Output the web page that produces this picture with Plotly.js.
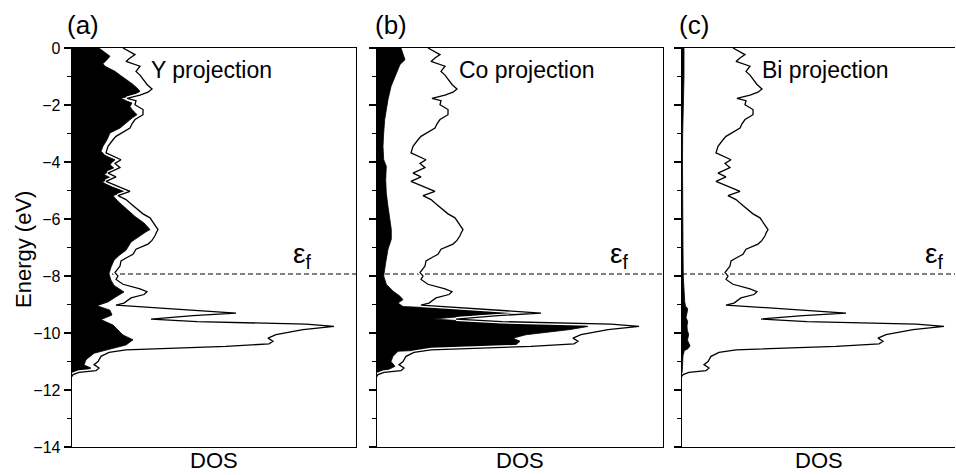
<!DOCTYPE html>
<html>
<head>
<meta charset="utf-8">
<script src="https://cdn.plot.ly/plotly-3.0.1.min.js"></script>
<style>html,body{margin:0;padding:0;background:#fff;overflow:hidden}</style>
</head>
<body>
<div id="chart" style="width:956px;height:475px"></div>
<script>
// Energy grid (eV) and total DOS (arb. units) — same total curve in every panel
const energyTotal = [0,-0.12,-0.23,-0.35,-0.47,-0.64,-0.82,-0.95,-1.11,-1.28,-1.44,-1.55,-1.65,-1.77,-1.85,-1.99,-2.16,-2.34,-2.51,-2.66,-2.81,-2.98,-3.10,-3.22,-3.45,-3.68,-3.80,-3.92,-4.05,-4.20,-4.39,-4.52,-4.68,-4.85,-5.03,-5.18,-5.32,-5.50,-5.67,-5.82,-5.96,-6.20,-6.37,-6.50,-6.59,-6.75,-6.88,-7.06,-7.24,-7.35,-7.47,-7.65,-7.78,-7.88,-8.00,-8.12,-8.29,-8.45,-8.55,-8.65,-8.77,-8.95,-9.02,-9.30,-9.39,-9.51,-9.60,-9.69,-9.77,-9.88,-10.06,-10.18,-10.29,-10.38,-10.47,-10.59,-10.68,-10.82,-11.00,-11.11,-11.23,-11.32,-11.38,-11.46,-11.52];
const dosTotal = [5.1,5.8,6.3,5.8,5.4,6.8,6.4,6.8,7.1,7.5,8.0,7.6,6.8,5.5,6.4,6.3,7.1,7.1,6.3,6.0,5.8,4.9,4.4,4.1,3.6,3.4,4.1,4.9,4.3,4.8,3.6,4.4,3.4,4.6,5.8,4.6,5.4,6.0,6.6,7.1,7.8,8.3,8.6,8.4,8.3,8.0,7.6,6.4,6.1,5.5,4.9,4.8,4.5,4.3,4.6,4.4,5.1,6.8,7.5,7.2,5.9,5.2,4.4,16.4,12.1,7.9,12.5,23.4,26.2,23.1,20.4,19.6,20.1,19.7,15.4,5.4,3.7,2.9,2.6,2.2,2.7,2.4,0.7,0.1,0];

// Y projection (panel a)
const energyY = [0,-0.15,-0.29,-0.41,-0.55,-0.64,-0.82,-0.95,-1.11,-1.25,-1.40,-1.52,-1.62,-1.77,-1.93,-2.05,-2.16,-2.34,-2.46,-2.57,-2.81,-2.98,-3.22,-3.45,-3.63,-3.80,-3.92,-4.09,-4.22,-4.44,-4.56,-4.70,-4.87,-5.03,-5.18,-5.38,-5.61,-5.91,-6.14,-6.37,-6.45,-6.58,-6.81,-7.10,-7.28,-7.45,-7.69,-7.92,-8.15,-8.33,-8.56,-8.73,-8.91,-9.04,-9.20,-9.37,-9.53,-9.72,-9.90,-10.07,-10.24,-10.42,-10.53,-10.62,-10.71,-10.94,-11.12,-11.23,-11.35,-11.47,-11.52];
const dosY = [2.7,3.3,3.8,3.5,3.1,3.3,4.3,4.8,5.5,6.0,6.5,6.8,6.3,4.9,6.0,5.8,6.0,6.5,6.0,5.6,4.8,3.8,3.5,3.1,2.9,3.5,4.3,3.8,4.2,3.2,3.9,3.0,4.0,5.3,4.1,4.6,5.3,6.3,7.2,7.8,7.4,6.9,5.9,5.4,4.7,4.2,3.9,3.7,3.9,4.2,5.2,4.4,3.6,2.5,3.8,4.0,2.9,4.1,4.6,5.1,6.1,5.4,4.2,3.2,2.2,1.4,1.2,1.9,1.2,0.4,0];

// Co projection (panel b)
const energyCo = [0,-0.23,-0.41,-0.58,-0.76,-0.99,-1.35,-1.81,-2.16,-2.51,-2.98,-3.45,-3.92,-4.15,-4.62,-5.09,-5.56,-6.02,-6.37,-6.71,-7.06,-7.53,-8.00,-8.29,-8.53,-8.71,-8.83,-8.95,-9.07,-9.28,-9.35,-9.51,-9.59,-9.69,-9.77,-9.88,-10.06,-10.18,-10.29,-10.41,-10.53,-10.64,-10.82,-11.00,-11.17,-11.29,-11.40,-11.52];
const dosCo = [2.4,2.6,2.8,2.3,2.1,1.8,1.4,1.1,0.93,0.77,0.67,0.6,0.67,0.93,0.87,0.93,1.1,1.27,1.43,1.43,1.1,0.87,0.67,0.93,1.6,2.3,2.6,2.1,2.6,15.5,11.0,5.6,9.3,20.6,21.1,19.3,14.9,13.6,14.3,13.9,9.3,2.1,1.6,1.4,1.8,1.1,0.6,0];

// Bi projection (panel c)
const energyBi = [0,-0.5,-1.0,-1.5,-2.0,-2.5,-3.0,-4.0,-5.0,-6.0,-7.0,-8.0,-8.5,-8.9,-9.05,-9.15,-9.3,-9.45,-9.6,-9.75,-9.9,-10.05,-10.25,-10.45,-10.55,-10.62,-10.8,-11.2,-11.5];
const dosBi = [0.2,0.23,0.2,0.17,0.13,0.1,0.07,0.05,0.05,0.07,0.1,0.13,0.17,0.27,0.35,0.57,0.5,0.4,0.57,0.5,0.53,0.67,0.55,0.8,0.6,0.23,0.1,0.05,0];

const fermiLevel = -7.93;
const panelLabels = ['(a)','(b)','(c)'];
const projectionLabels = ['Y projection','Co projection','Bi projection'];
const yTickVals = [0,-2,-4,-6,-8,-10,-12,-14];

const FONT = 'Liberation Sans, Arial, Helvetica, sans-serif';
const W = 956, PT = 48, PB = 447;
const px = v => v / W;
const py = v => (PB - v) / (PB - PT);

const projections = [[energyY, dosY], [energyCo, dosCo], [energyBi, dosBi]];
const axisSuffix = ['', '2', '3'];
const traces = [];
projections.forEach((p, i) => {
  const xa = 'x' + axisSuffix[i], ya = 'y' + axisSuffix[i];
  traces.push({x: p[1], y: p[0], xaxis: xa, yaxis: ya, type: 'scatter', mode: 'lines',
    fill: 'tozerox', fillcolor: '#000', line: {color: '#000', width: 0.8}, hoverinfo: 'skip'});
  traces.push({x: dosTotal, y: energyTotal, xaxis: xa, yaxis: ya, type: 'scatter', mode: 'lines',
    line: {color: '#fff', width: 4}, hoverinfo: 'skip'});
  traces.push({x: dosTotal, y: energyTotal, xaxis: xa, yaxis: ya, type: 'scatter', mode: 'lines',
    line: {color: '#000', width: 1.3}, hoverinfo: 'skip'});
});

const domains = [[px(72), px(356)], [px(377), px(663)], [px(682), px(955)]];
const xRanges = [[0, 28.4], [0, 28.6], [0, 27.3]];

const layout = {
  width: 956, height: 475,
  margin: {l: 0, r: 0, t: PT, b: 475 - PB, pad: 0},
  paper_bgcolor: '#fff', plot_bgcolor: '#fff',
  showlegend: false,
  font: {family: FONT, color: '#000'},
  shapes: [], annotations: []
};

for (let i = 0; i < 3; i++) {
  const s = axisSuffix[i];
  layout['xaxis' + s] = {
    domain: domains[i], range: xRanges[i], anchor: 'y' + s,
    showline: true, mirror: true, linecolor: '#000', linewidth: 1.3,
    showgrid: false, zeroline: false, ticks: '', showticklabels: false, fixedrange: true
  };
  layout['yaxis' + s] = {
    domain: [0, 1], range: [-14, 0], anchor: 'x' + s,
    showline: true, mirror: i < 2, linecolor: '#000', linewidth: 1.3,
    showgrid: false, zeroline: false,
    tickmode: 'array', tickvals: yTickVals,
    ticks: 'outside', ticklen: 7, tickwidth: 1.3, tickcolor: '#000',
    minor: {dtick: 1, tick0: 0, ticks: 'outside', ticklen: 4, tickwidth: 1.3, tickcolor: '#000', showgrid: false},
    showticklabels: i === 0, tickfont: {family: FONT, size: 16, color: '#000'},
    fixedrange: true
  };
  layout.shapes.push({type: 'line', xref: 'x' + s + ' domain', yref: 'y' + s,
    x0: 0, x1: 1, y0: fermiLevel, y1: fermiLevel, layer: 'below',
    line: {color: '#000', width: 1.2, dash: '5px,3px'}});
}

const panelX = [65, 373, 677];
const projX = [149, 457, 760];
const epsX = [291, 608, 923];
for (let i = 0; i < 3; i++) {
  const s = axisSuffix[i];
  layout.annotations.push({text: panelLabels[i], xref: 'paper', yref: 'paper', x: px(panelX[i]), y: py(25),
    xanchor: 'left', yanchor: 'middle', showarrow: false, font: {family: FONT, size: 26, color: '#000'}});
  layout.annotations.push({text: projectionLabels[i], xref: 'paper', yref: 'paper', x: px(projX[i]), y: py(70),
    xanchor: 'left', yanchor: 'middle', showarrow: false, font: {family: FONT, size: 23, color: '#000'}});
  layout.annotations.push({text: 'ε<sub>f</sub>', xref: 'paper', yref: 'paper', x: px(epsX[i]), y: py(255),
    xanchor: 'left', yanchor: 'middle', showarrow: false, font: {family: FONT, size: 28, color: '#000'}});
  layout.annotations.push({text: 'DOS', xref: 'x' + s + ' domain', yref: 'paper', x: 0.5, y: py(460),
    xanchor: 'center', yanchor: 'middle', showarrow: false, font: {family: FONT, size: 22, color: '#000'}});
}
layout.annotations.push({text: 'Energy (eV)', xref: 'paper', yref: 'paper', x: px(23), y: py(250),
  xanchor: 'center', yanchor: 'middle', textangle: -90, showarrow: false, font: {family: FONT, size: 22, color: '#000'}});

Plotly.newPlot('chart', traces, layout, {staticPlot: true, displayModeBar: false});
</script>
</body>
</html>
